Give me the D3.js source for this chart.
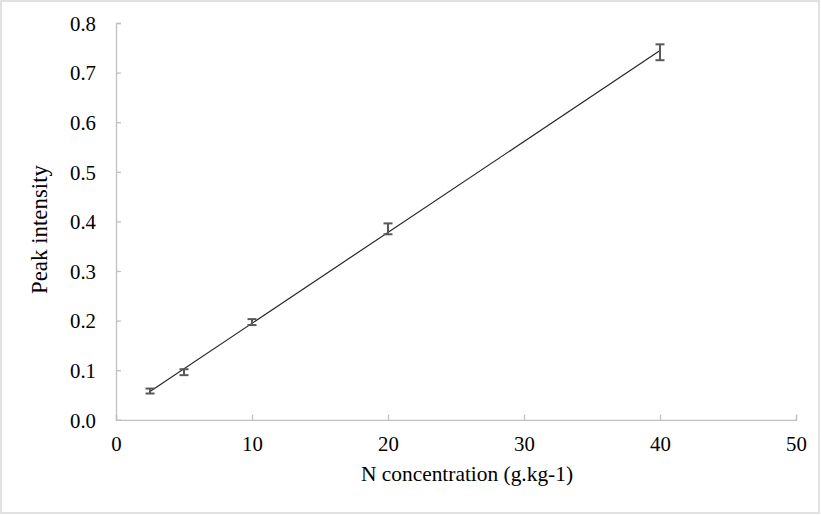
<!DOCTYPE html>
<html><head><meta charset="utf-8">
<script src="https://cdn.jsdelivr.net/npm/d3@7"></script>
<style>body{margin:0;background:#fff}svg{display:block}</style>
</head><body>
<script>
const concentrations = [2.5, 5, 10, 20, 40];
const intensities = [0.058, 0.096, 0.197, 0.385, 0.741];
const errors = [0.005, 0.006, 0.006, 0.011, 0.016];
const xTicks = [0, 10, 20, 30, 40, 50];
const yTicks = [0, 0.1, 0.2, 0.3, 0.4, 0.5, 0.6, 0.7, 0.8];

const W = 821, H = 515;
const FONT = '"Liberation Serif"';
const svg = d3.select("body").append("svg").attr("width", W).attr("height", H);
svg.append("rect").attr("x", 1).attr("y", 1).attr("width", W - 3).attr("height", H - 3)
  .attr("fill", "#fff").attr("stroke", "#d9d9d9").attr("stroke-width", 1.5);

const x = d3.scaleLinear().domain([0, 50]).range([116, 796]);
const y = d3.scaleLinear().domain([0, 0.8]).range([419.8, 23]);
const axisColor = "#bfbfbf";

// axes
const xAxis = svg.append("g").attr("transform", `translate(0,${y(0)})`)
  .call(d3.axisBottom(x).tickValues(xTicks).tickSize(-5).tickPadding(0).tickFormat(d3.format("d")));
const yAxis = svg.append("g").attr("transform", `translate(${x(0)},0)`)
  .call(d3.axisLeft(y).tickValues(yTicks).tickSize(-5).tickPadding(0).tickFormat(d3.format(".1f")));
[xAxis, yAxis].forEach(g => {
  g.attr("font-family", null).attr("font-size", null);
  g.select(".domain").attr("stroke", axisColor).attr("stroke-width", 1.3);
  g.selectAll(".tick line").attr("stroke", axisColor).attr("stroke-width", 1.3);
  g.selectAll("text").style("font-family", FONT).style("font-size", "20.8px").attr("fill", "#000");
});
xAxis.selectAll("text").attr("dy", null).attr("y", 31);
yAxis.selectAll("text").attr("x", -20).attr("dy", "0.35em");

// linear trendline fitted to the data
const mx = d3.mean(concentrations), my = d3.mean(intensities);
const sxy = d3.sum(concentrations, (c, i) => (c - mx) * (intensities[i] - my));
const sxx = d3.sum(concentrations, c => (c - mx) ** 2);
const slope = sxy / sxx, icpt = my - slope * mx;
const x0 = d3.min(concentrations), x1 = d3.max(concentrations);
svg.append("line")
  .attr("x1", x(x0)).attr("y1", y(icpt + slope * x0))
  .attr("x2", x(x1)).attr("y2", y(icpt + slope * x1))
  .attr("stroke", "#262626").attr("stroke-width", 1.2);

// error bars
const eb = svg.append("g").attr("stroke", "#595959").attr("stroke-width", 2).attr("fill", "none");
concentrations.forEach((c, i) => {
  const cx = x(c), lo = y(intensities[i] - errors[i]), hi = y(intensities[i] + errors[i]);
  eb.append("line").attr("x1", cx).attr("x2", cx).attr("y1", lo).attr("y2", hi);
  eb.append("line").attr("x1", cx - 4.5).attr("x2", cx + 4.5).attr("y1", lo).attr("y2", lo);
  eb.append("line").attr("x1", cx - 4.5).attr("x2", cx + 4.5).attr("y1", hi).attr("y2", hi);
});

// titles
svg.append("text").attr("x", 467).attr("y", 481)
  .attr("text-anchor", "middle").style("font-family", FONT).style("font-size", "21.4px")
  .text("N concentration (g.kg-1)");
svg.append("text").attr("transform", "translate(47,229.5) rotate(-90)")
  .attr("text-anchor", "middle").style("font-family", FONT).style("font-size", "22.9px")
  .text("Peak intensity");
</script>
</body></html>
